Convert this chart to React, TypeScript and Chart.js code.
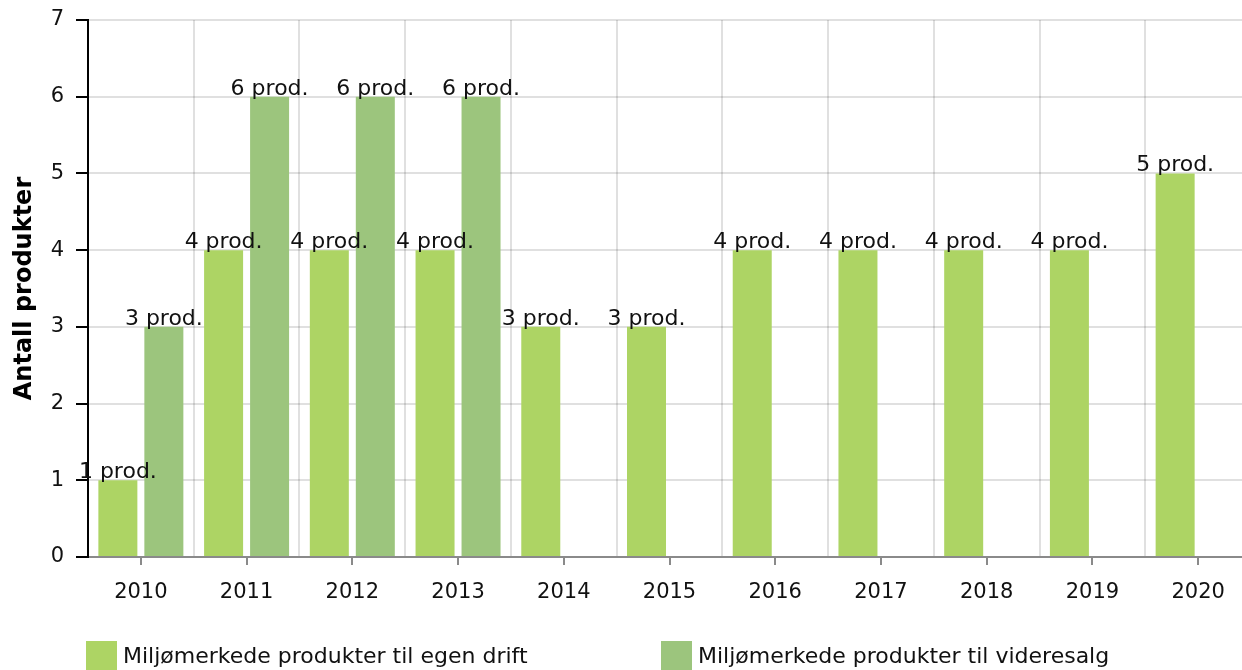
import React, { useEffect, useRef } from "react";
import { Chart, registerables } from "chart.js";

Chart.register(...registerables);

const years = ["2010", "2011", "2012", "2013", "2014", "2015", "2016", "2017", "2018", "2019", "2020"];
const egenDrift = [1, 4, 4, 4, 3, 3, 4, 4, 4, 4, 5];
const videresalg = [3, 6, 6, 6, null, null, null, null, null, null, null];
const seriesNames = ["Miljømerkede produkter til egen drift", "Miljømerkede produkter til videresalg"];
const seriesColors = ["#add464", "#9cc57d"];
const yTitle = "Antall produkter";
const labelSuffix = " prod.";

const FONT = "'DejaVu Sans', Verdana, sans-serif";
const TEXT = "#111";

export default function App() {
  const ref = useRef<HTMLCanvasElement | null>(null);

  useEffect(() => {
    const canvas = ref.current;
    if (!canvas) return;

    const dataLabels = {
      id: "dataLabels",
      afterDatasetsDraw(chart: any) {
        const ctx = chart.ctx;
        ctx.save();
        ctx.font = `22px ${FONT}`;
        ctx.fillStyle = TEXT;
        ctx.textAlign = "center";
        ctx.textBaseline = "alphabetic";
        chart.data.datasets.forEach((ds: any, di: number) => {
          const meta = chart.getDatasetMeta(di);
          meta.data.forEach((el: any, i: number) => {
            const v = ds.data[i];
            if (v === null || v === undefined) return;
            ctx.fillText(`${v}${labelSuffix}`, el.x, el.y - 2);
          });
        });
        ctx.restore();
      },
    };

    const centerTicks = {
      id: "centerTicks",
      afterDraw(chart: any) {
        const ctx = chart.ctx;
        const xs = chart.scales.x;
        const bottom = chart.chartArea.bottom;
        ctx.save();
        ctx.strokeStyle = "#8a8a8a";
        ctx.lineWidth = 2;
        years.forEach((_, i) => {
          const x = Math.round(xs.getPixelForValue(i));
          ctx.beginPath();
          ctx.moveTo(x, bottom);
          ctx.lineTo(x, bottom + 8);
          ctx.stroke();
        });
        ctx.restore();
      },
    };

    const bottomLegend = {
      id: "bottomLegend",
      afterDraw(chart: any) {
        const ctx = chart.ctx;
        const left = chart.chartArea.left;
        const top = chart.chartArea.bottom + 84;
        const offsets = [left - 2, left + 573];
        ctx.save();
        ctx.font = `22px ${FONT}`;
        ctx.textAlign = "left";
        ctx.textBaseline = "alphabetic";
        seriesNames.forEach((name, i) => {
          const x = offsets[i];
          ctx.fillStyle = seriesColors[i];
          ctx.fillRect(x, top, 31, 31);
          ctx.fillStyle = TEXT;
          ctx.fillText(name, x + 37, top + 22);
        });
        ctx.restore();
      },
    };

    const chart = new Chart(canvas, {
      type: "bar",
      data: {
        labels: years,
        datasets: [
          {
            label: seriesNames[0],
            data: egenDrift,
            backgroundColor: seriesColors[0],
            categoryPercentage: 0.87,
            barPercentage: 0.848,
          },
          {
            label: seriesNames[1],
            data: videresalg as any,
            backgroundColor: seriesColors[1],
            categoryPercentage: 0.87,
            barPercentage: 0.848,
          },
        ],
      },
      options: {
        responsive: false,
        animation: false,
        layout: { padding: { top: 20, right: 11, bottom: 73, left: 0 } },
        plugins: {
          legend: { display: false },
          tooltip: { enabled: false },
        },
        scales: {
          x: {
            offset: true,
            grid: {
              offset: true,
              drawTicks: false,
              color: "rgba(0,0,0,0.12)",
              lineWidth: 2,
            },
            border: { color: "#8a8a8a", width: 2 },
            ticks: {
              color: TEXT,
              font: { family: FONT, size: 21 },
              padding: 23,
              maxRotation: 0,
              autoSkip: false,
            },
            afterFit(scale: any) {
              scale.height = 60;
              scale.paddingLeft = 0;
              scale.paddingRight = 0;
            },
          },
          y: {
            min: 0,
            max: 7,
            grid: {
              color: "rgba(0,0,0,0.12)",
              lineWidth: 2,
              tickColor: "#000",
              tickLength: 12,
              drawTicks: true,
            },
            border: { color: "#000", width: 2 },
            ticks: {
              stepSize: 1,
              color: TEXT,
              font: { family: FONT, size: 21 },
              padding: 12,
            },
            title: {
              display: true,
              text: yTitle,
              color: "#000",
              font: { family: FONT, size: 24, weight: "bold" },
              padding: { top: 10, bottom: 0 },
            },
            afterFit(scale: any) {
              scale.width = 88;
              scale.paddingTop = 0;
              scale.paddingBottom = 0;
            },
          },
        },
      },
      plugins: [dataLabels, centerTicks, bottomLegend],
    });

    return () => chart.destroy();
  }, []);

  return (
    <div
      style={{
        position: "fixed",
        left: 0,
        top: 0,
        width: 1242,
        height: 670,
        overflow: "hidden",
        background: "#fff",
      }}
    >
      <canvas ref={ref} width={1262} height={690} style={{ display: "block" }} />
    </div>
  );
}
